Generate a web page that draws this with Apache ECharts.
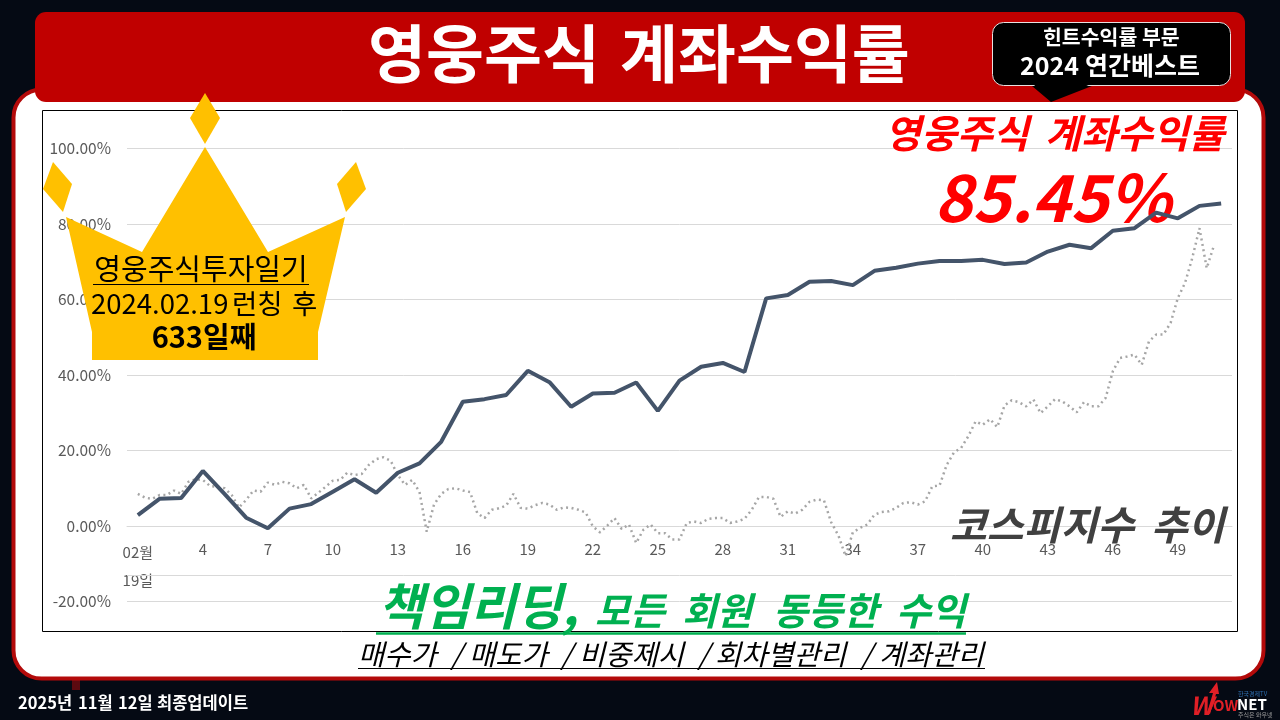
<!DOCTYPE html>
<html>
<head>
<meta charset="utf-8">
<style>
html,body{margin:0;padding:0;background:#050a14;}
#main{width:1280px;height:720px;}
</style>
<script src="https://cdn.jsdelivr.net/npm/echarts@6/dist/echarts.min.js"></script>
</head>
<body>
<div id="main"></div>
<script>
// 주간 카테고리 (x축 라벨은 3칸마다)
let weeks = ['02월\n19일','2','3','4','5','6','7','8','9','10','11','12','13','14','15','16','17','18','19','20','21','22','23','24','25','26','27','28','29','30','31','32','33','34','35','36','37','38','39','40','41','42','43','44','45','46','47','48','49','50','51'];

// 영웅주식 계좌수익률 (%)
let accountReturn = [2.9,7.2,7.4,14.6,8.5,2.2,-0.6,4.6,5.8,9.1,12.4,8.8,14.1,16.6,22.3,32.9,33.6,34.7,41.1,38.1,31.6,35.1,35.3,38.0,30.5,38.5,42.2,43.2,40.8,60.3,61.2,64.7,64.9,63.8,67.6,68.4,69.5,70.2,70.2,70.5,69.4,69.8,72.7,74.5,73.6,78.2,78.9,83.0,81.5,84.8,85.45];

// 코스피지수 추이 (%) - 주간 1칸당 3포인트
let kospiReturn = ['-',8.5,7.5,7.2,8.2,8.2,9.4,8.5,11.7,12.4,12.2,
  10.6,10.4,10.0,8.2,4.9,6.9,9.4,9.1,11.5,10.9,
  11.7,11.3,10.0,10.9,7.3,8.8,10.4,12.0,12.2,14.1,
  13.5,13.8,16.2,17.7,18.2,17.3,13.5,10.9,12.2,9.0,
  -1.5,5.6,8.5,9.8,10.0,9.4,9.0,3.4,2.1,4.3,
  4.7,5.4,8.5,4.8,4.6,5.5,6.1,5.7,4.3,4.9,
  4.8,4.3,3.6,-0.1,-1.7,0.1,2.1,-0.8,0.4,-4.5,
  -1.0,0.4,-1.9,-1.9,-3.6,-3.6,0.8,1.2,0.8,1.9,
  2.1,2.1,0.8,1.2,1.9,4.3,7.7,7.7,7.2,2.4,
  3.9,3.3,4.3,6.4,7.0,6.8,1.0,-2.5,-8.0,-1.7,
  -0.5,0.4,3.0,3.7,3.9,4.8,6.1,6.3,5.7,6.5,
  10.5,10.7,16.2,19.5,20.7,23.8,27.7,26.8,28.3,26.2,
  31.9,33.3,32.8,31.7,33.5,29.9,31.7,33.6,33.0,31.7,
  30.1,32.8,31.7,31.7,33.9,41.0,44.5,44.9,45.4,42.7,
  48.9,50.7,50.7,53.8,60.4,64.4,71.0,78.9,68.3,74.3,'-','-'];

let kospiSlots = kospiReturn.map(function(v,i){return i;});

let yMin = -20, yMax = 100, yStep = 20;
let axisCrossLine = -13;

let krFont = '"Noto Sans CJK KR","Noto Sans",sans-serif';

function label(text,x,y,size,color,opt){
    opt = opt || {};
    return {
        type:'text', z:opt.z===undefined?20:opt.z, silent:true,
        style:{
            text:text, x:x, y:y, fontSize:size, fontFamily:krFont, fill:color,
            fontWeight:opt.weight||'normal', fontStyle:opt.italic?'italic':'normal',
            align:opt.align||'left', verticalAlign:'middle'
        }
    };
}
function box(x,y,w,h,r,fill,stroke,lw,z){
    return {type:'rect', z:z, silent:true, shape:{x:x,y:y,width:w,height:h,r:r},
        style:{fill:fill,stroke:stroke||null,lineWidth:lw||0}};
}
function poly(points,fill,z){
    return {type:'polygon', z:z, silent:true, shape:{points:points}, style:{fill:fill}};
}
function rule(x1,x2,y,color,w,z){
    return {type:'line', z:z, silent:true, shape:{x1:x1,y1:y,x2:x2,y2:y}, style:{stroke:color,lineWidth:w}};
}

let gold = '#ffc000';
let boldIt = {weight:'bold',italic:true};
let redIt = {weight:'bold',italic:true,z:1};
let thinIt = {italic:true};
let bold = {weight:'bold'};
let deco = [
    // 패널
    box(72,680,8,10,0,'#5c0a10',null,0,-30),
    box(13.5,89.5,1250,589,28,'#ffffff','#b30a0a',4,-30),
    box(35,12,1210,90,11,'#c00000',null,0,-29),
    box(42.5,110.5,1195,521,0,'#ffffff','#000000',1,-28),
    // 말풍선
    poly([[1032,86],[1051,102],[1092,86]],'#000000',-20),
    box(992.5,22.5,238,63,11,'#000000','#e8e0e0',1,-20),
    poly([[1033,84],[1051,101],[1091,84]],'#000000',-19),
    label('힌트수익률 부문',1043,37,20.5,'#ffffff',bold),
    label('2024',1020,65,25,'#ffffff',bold),
    label('연간베스트',1085,65,25,'#ffffff',bold),
    // 제목
    label('영웅주식',368,53,63,'#ffffff',bold),
    label('계좌수익률',620,53,63,'#ffffff',bold),
    label('영웅주식',885,133,39,'#ff0000',redIt),
    label('계좌수익률',1045,133,39,'#ff0000',redIt),
    label('85.45%',934,197,65,'#ff0000',redIt),
    label('코스피지수',950,525,40,'#404040',boldIt),
    label('추이',1151,525,40,'#404040',boldIt),
    // 왕관
    poly([[205,93],[220,118],[205,144],[190,118]],gold,10),
    poly([[53,162],[72,184],[63,212],[43,189]],gold,10),
    poly([[356,162],[366,189],[346,212],[337,184]],gold,10),
    poly([[205,147],[268,252],[345,217],[318,332],[318,360],[92,360],[92,332],[66,217],[142,252]],gold,10),
    label('영웅주식투자일기',201,269,29,'#000000',{align:'center'}),
    rule(93,309,284.5,'#000000',1,20),
    label('2024.02.19',91,304,27.5,'#000000'),
    label('런칭',232,304,27.5,'#000000'),
    label('후',292,304,27.5,'#000000'),
    label('633일째',204,337,29,'#000000',{weight:'bold',align:'center'}),
    // 하단 문구
    label('책임리딩,',378,606,50,'#00b050',boldIt),
    label('모든',595,611,38,'#00b050',boldIt),
    label('회원',682,611,38,'#00b050',boldIt),
    label('동등한',773,611,38,'#00b050',boldIt),
    label('수익',896,611,38,'#00b050',boldIt),
    rule(376,966,633.5,'#00b050',2.5,20),
    label('매수가',358,654,28.5,'#000000',thinIt),
    label('/',451,654,28.5,'#000000',thinIt),
    label('매도가',469,654,28.5,'#000000',thinIt),
    label('/',561,654,28.5,'#000000',thinIt),
    label('비중제시',579,654,28.5,'#000000',thinIt),
    label('/',698,654,28.5,'#000000',thinIt),
    label('회차별관리',715,654,28.5,'#000000',thinIt),
    label('/',861,654,28.5,'#000000',thinIt),
    label('계좌관리',879,654,28.5,'#000000',thinIt),
    rule(358,985,668.5,'#000000',1,20),
    label('2025년',18,703,16.5,'#ffffff',bold),
    label('11월',78,703,16.5,'#ffffff',bold),
    label('12일',118,703,16.5,'#ffffff',bold),
    label('최종업데이트',157,703,16.5,'#ffffff',bold),
    // 로고
    poly([[1207,713],[1213,693],[1209,693],[1217,682],[1219,694],[1216,694],[1210,714]],'#e01f26',21),
    label('W',1190,705,25,'#e01f26',boldIt),
    label('OW',1213,705,15,'#e01f26',bold),
    label('NET',1237,704,15,'#ffffff',bold),
    label('한국경제TV',1238,694,6,'#2f6fb0'),
    label('주식은 와우넷',1238,715,6,'#9a9a9a')
];

let chart = echarts.init(document.getElementById('main'));
chart.setOption({
    backgroundColor:'#050a14',
    animation:false,
    textStyle:{fontFamily:krFont},
    graphic:{elements:deco},
    grid:{left:127,right:48,top:148.5,height:453,containLabel:false},
    xAxis:[{
        type:'category',
        data:weeks,
        position:'bottom',
        offset:-75.5,   // 라벨을 0% 선 아래로 올림
        axisTick:{show:false},
        axisLine:{onZero:false,lineStyle:{color:'#d9d9d9',width:1}},
        axisLabel:{
            interval:2,color:'#595959',fontSize:15,lineHeight:28,margin:9,fontFamily:krFont,hideOverlap:false,
            formatter:function(v){
                let parts = v.split('\n');
                return parts.length>1 ? '{a|'+parts[0]+'}\n{b|'+parts[1]+'}' : v;
            },
            rich:{
                a:{color:'#595959',fontSize:15,lineHeight:34,fontFamily:krFont},
                b:{color:'#595959',fontSize:15,lineHeight:22,fontFamily:krFont}
            }
        }
    },{
        type:'category',
        data:kospiSlots,
        show:false,
        axisLine:{onZero:false}
    }],
    yAxis:{
        type:'value',
        min:yMin, max:yMax, interval:yStep,
        axisLine:{show:false},
        axisTick:{show:false},
        splitLine:{lineStyle:{color:'#d9d9d9',width:1}},
        axisLabel:{
            color:'#595959',fontSize:15.5,margin:16,fontFamily:krFont,
            formatter:function(v){return v.toFixed(2)+'%';}
        }
    },
    series:[{
        name:'코스피지수 추이',
        type:'line',
        xAxisIndex:1,
        data:kospiReturn,
        showSymbol:false,
        lineStyle:{color:'#a6a6a6',width:2.5,type:[2,3.5],cap:'butt'},
        z:3
    },{
        name:'영웅주식 계좌수익률',
        type:'line',
        data:accountReturn,
        showSymbol:false,
        lineStyle:{color:'#44546a',width:4},
        markLine:{
            silent:true,symbol:'none',animation:false,
            label:{show:false},
            lineStyle:{color:'#d9d9d9',width:1,type:'solid'},
            data:[{yAxis:axisCrossLine}]
        },
        z:4
    }]
});
</script>
</body>
</html>
